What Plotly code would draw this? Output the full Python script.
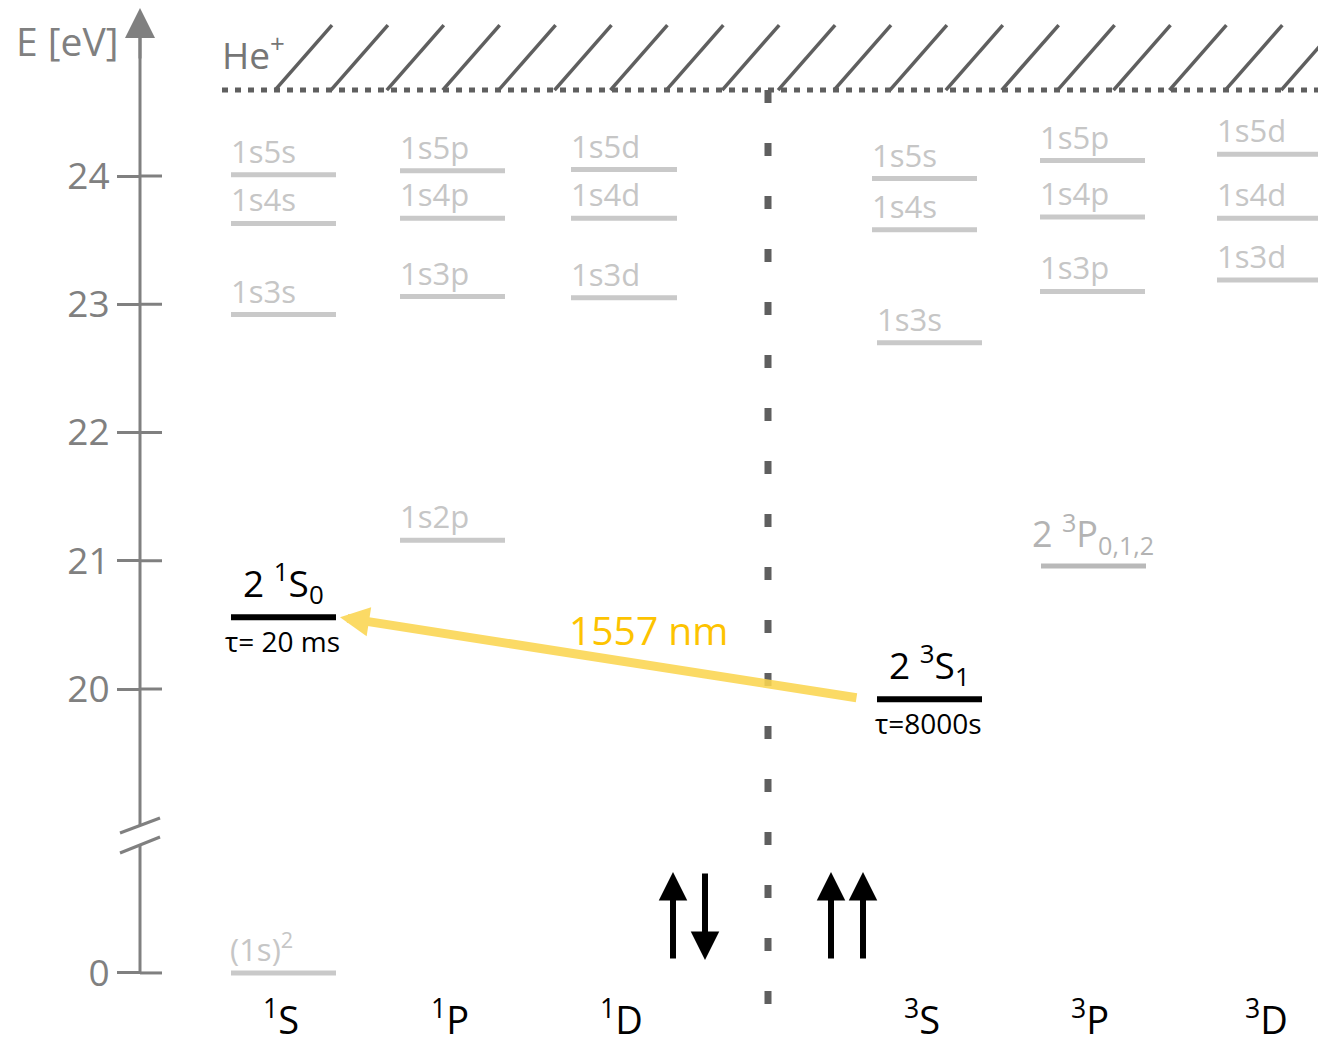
import plotly.graph_objects as go

# ---------------- data (energies in eV) ----------------
term_keys = ["1S", "1P", "1D", "3S", "3P", "3D"]
term_labels = ["<sup>1</sup>S", "<sup>1</sup>P", "<sup>1</sup>D",
               "<sup>3</sup>S", "<sup>3</sup>P", "<sup>3</sup>D"]

s1_configs = ["1s5s", "1s4s", "1s3s"]
s1_energies = [24.01, 23.63, 22.92]
p1_configs = ["1s5p", "1s4p", "1s3p", "1s2p"]
p1_energies = [24.04, 23.67, 23.06, 21.16]
d1_configs = ["1s5d", "1s4d", "1s3d"]
d1_energies = [24.05, 23.67, 23.05]
s3_configs = ["1s5s", "1s4s", "1s3s"]
s3_energies = [23.98, 23.58, 22.70]
p3_configs = ["1s5p", "1s4p", "1s3p"]
p3_energies = [24.12, 23.68, 23.10]
d3_configs = ["1s5d", "1s4d", "1s3d"]
d3_energies = [24.17, 23.67, 23.19]

p3_2_label = "2 <sup>3</sup>P<sub>0,1,2</sub>"
p3_2_energy = 20.96

ground_label = "(1s)<sup>2</sup>"
ground_energy = 0.0

meta_terms = ["1S", "3S"]
meta_labels = ["2 <sup>1</sup>S<sub>0</sub>", "2 <sup>3</sup>S<sub>1</sub>"]
meta_energies = [20.56, 19.92]
meta_lifetimes = ["τ= 20 ms", "τ=8000s"]

ionization_energy = 24.67
transition_label = "1557 nm"

tick_energies = [0, 20, 21, 22, 23, 24]
tick_text = ["0", "20", "21", "22", "23", "24"]

# ---------------- layout helpers ----------------
W, H = 1326, 1047
OFF = 8                      # page body margin
GROUND_DISPLAY = 17.786      # where 0 eV is drawn (below the axis break)
PX_PER_EV = 128.25
E_AT_TOP = 20 + 689 / PX_PER_EV


def px_to_y(px):
    return E_AT_TOP - px / PX_PER_EV


Y_RANGE = [px_to_y(H), px_to_y(OFF)]
X_RANGE = [OFF, W]


def ymap(e):
    return e + GROUND_DISPLAY if e < 19 else e


col_x = {"1S": (231, 336), "1P": (400, 505), "1D": (571, 677),
         "3S": (872, 977), "3P": (1040, 1145), "3D": (1217, 1322)}
meta_x = {"1S": (231, 336), "3S": (877, 982)}

AXIS_X = 140
AXIS_COL = "#808080"
LEVEL_COL = "#c9c9c9"
LABEL_COL = "#c6c6c6"
FONT = "Open Sans"

shapes = []
annotations = []


def hline(x0, x1, y, color, width):
    shapes.append(dict(type="line", xref="x", yref="y", x0=x0, x1=x1, y0=y, y1=y,
                       line=dict(color=color, width=width)))


def level_label(x, y, text, color=LABEL_COL, size=31):
    annotations.append(dict(x=x, y=y, xref="x", yref="y", text=text, showarrow=False,
                            xanchor="left", yanchor="bottom", yshift=1,
                            font=dict(family=FONT, size=size, color=color)))


groups = [("1S", s1_configs, s1_energies), ("1P", p1_configs, p1_energies),
          ("1D", d1_configs, d1_energies), ("3S", s3_configs, s3_energies),
          ("3P", p3_configs, p3_energies), ("3D", d3_configs, d3_energies)]
for key, cfgs, ens in groups:
    x0, x1 = col_x[key]
    for c, e in zip(cfgs, ens):
        xs = (x0 + 5, x1 + 5) if (key == "3S" and c == "1s3s") else (x0, x1)
        hline(xs[0], xs[1], ymap(e), LEVEL_COL, 5)
        level_label(xs[0] - 2, ymap(e), c)

# 2 3P
x0, x1 = col_x["3P"]
hline(x0 + 1, x1 + 1, ymap(p3_2_energy), "#b9b9b9", 5)
annotations.append(dict(x=(x0 + x1) / 2, y=ymap(p3_2_energy), xref="x", yref="y",
                        text=p3_2_label, showarrow=False, xanchor="center",
                        yanchor="bottom", yshift=2,
                        font=dict(family=FONT, size=36, color="#b3b3b3")))

# ground state
x0, x1 = col_x["1S"]
hline(x0, x1, ymap(ground_energy), LEVEL_COL, 5)
level_label(x0 - 3, ymap(ground_energy), ground_label, size=31)

# metastable levels
for key, lab, e, tau in zip(meta_terms, meta_labels, meta_energies, meta_lifetimes):
    x0, x1 = meta_x[key]
    hline(x0, x1, ymap(e), "#000000", 6)
    annotations.append(dict(x=(x0 + x1) / 2, y=ymap(e), xref="x", yref="y", text=lab,
                            showarrow=False, xanchor="center", yanchor="bottom", yshift=3,
                            font=dict(family=FONT, size=37, color="#000000")))
    annotations.append(dict(x=(x0 + x1) / 2 - 1, y=ymap(e), xref="x", yref="y", text=tau,
                            showarrow=False, xanchor="center", yanchor="top", yshift=-3,
                            font=dict(family=FONT, size=28, color="#000000")))

# ionization limit + hatching
yi = ymap(ionization_energy)
shapes.append(dict(type="line", xref="x", yref="y", x0=222, x1=W, y0=yi, y1=yi,
                   line=dict(color="#5f5f5f", width=5, dash="6px,7px")))
hx = 275.0
while hx < W + 10:
    shapes.append(dict(type="line", xref="x", yref="y", x0=hx, x1=hx + 57,
                       y0=yi, y1=yi + 65 / PX_PER_EV,
                       line=dict(color="#5f5f5f", width=3.5)))
    hx += 55.9
annotations.append(dict(x=220, y=yi, xref="x", yref="y", text="He<sup>+</sup>",
                        showarrow=False, xanchor="left", yanchor="bottom", yshift=8,
                        font=dict(family=FONT, size=37, color="#767676")))

# singlet / triplet divider
shapes.append(dict(type="line", xref="x", yref="y", x0=768, x1=768,
                   y0=yi, y1=px_to_y(1006),
                   line=dict(color="#5f5f5f", width=7, dash="13px,40px")))

# energy axis (broken)
y_break_hi = px_to_y(826)
y_break_lo = px_to_y(846)
shapes.append(dict(type="line", xref="x", yref="y", x0=AXIS_X, x1=AXIS_X,
                   y0=y_break_hi, y1=px_to_y(22), line=dict(color=AXIS_COL, width=3)))
shapes.append(dict(type="line", xref="x", yref="y", x0=AXIS_X, x1=AXIS_X,
                   y0=ymap(0), y1=y_break_lo, line=dict(color=AXIS_COL, width=3)))
for a, b in [(833, 818), (853, 837)]:
    shapes.append(dict(type="line", xref="x", yref="y", x0=120, x1=160,
                       y0=px_to_y(a), y1=px_to_y(b), line=dict(color=AXIS_COL, width=3)))
for t in tick_energies:
    shapes.append(dict(type="line", xref="x", yref="y", x0=AXIS_X, x1=AXIS_X + 22,
                       y0=ymap(t), y1=ymap(t), line=dict(color=AXIS_COL, width=3)))
annotations.append(dict(x=AXIS_X, y=px_to_y(8), ax=AXIS_X, ay=px_to_y(60),
                        xref="x", yref="y", axref="x", ayref="y", text="",
                        showarrow=True, arrowhead=2, arrowsize=2.0, arrowwidth=3,
                        arrowcolor=AXIS_COL))
annotations.append(dict(x=120, y=px_to_y(40), xref="x", yref="y", text="E [eV]",
                        showarrow=False, xanchor="right", yanchor="middle",
                        font=dict(family=FONT, size=39, color=AXIS_COL)))

# transition arrow 2 3S1 -> 2 1S0
annotations.append(dict(x=col_x["1S"][1] + 4, y=ymap(meta_energies[0]),
                        ax=meta_x["3S"][0] - 19, ay=ymap(meta_energies[1]) + 0.01,
                        xref="x", yref="y", axref="x", ayref="y", text="",
                        showarrow=True, arrowhead=2, arrowsize=0.65, arrowwidth=9,
                        arrowcolor="rgba(251,214,80,0.88)"))
annotations.append(dict(x=648, y=px_to_y(629), xref="x", yref="y", text=transition_label,
                        showarrow=False, xanchor="center", yanchor="middle",
                        font=dict(family=FONT, size=39, color="#FDC300")))

# spin arrows
for xa, up in [(673, True), (705, False), (831, True), (863, True)]:
    tip, tail = (872, 960) if up else (960, 872)
    annotations.append(dict(x=xa, y=px_to_y(tip), ax=xa, ay=px_to_y(tail),
                            xref="x", yref="y", axref="x", ayref="y", text="",
                            showarrow=True, arrowhead=2, arrowsize=0.95, arrowwidth=6,
                            arrowcolor="#000000"))

# term labels
for key, lab in zip(term_keys, term_labels):
    x0, x1 = col_x[key]
    annotations.append(dict(x=(x0 + x1) / 2 - 3, y=px_to_y(1046), xref="x", yref="y",
                            text=lab, showarrow=False, xanchor="center", yanchor="bottom",
                            borderpad=0,
                            font=dict(family=FONT, size=38, color="#000000")))

fig = go.Figure()
fig.add_trace(go.Scatter(x=[None], y=[None], showlegend=False))
fig.update_layout(
    width=W - OFF, height=H - OFF, margin=dict(l=0, r=0, t=0, b=0),
    paper_bgcolor="white", plot_bgcolor="white", showlegend=False,
    shapes=shapes, annotations=annotations,
    xaxis=dict(range=X_RANGE, visible=False, fixedrange=True),
    yaxis=dict(range=Y_RANGE, anchor="free", position=(AXIS_X - OFF) / (W - OFF),
               side="left", showgrid=False, zeroline=False, showline=False,
               tickmode="array", tickvals=[ymap(t) for t in tick_energies],
               ticktext=tick_text, ticks="outside", ticklen=23, tickwidth=3,
               tickcolor=AXIS_COL, tickfont=dict(family=FONT, size=37, color=AXIS_COL),
               fixedrange=True),
)
fig.write_html("out.html")
